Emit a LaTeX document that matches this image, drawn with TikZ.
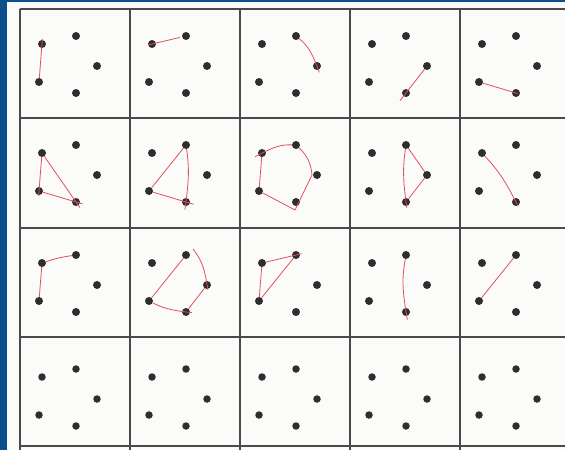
\documentclass[tikz,border=0pt]{standalone}
\usetikzlibrary{calc}
\definecolor{papier}{HTML}{FBFBF9}
\definecolor{rand}{HTML}{0B4F8C}
\definecolor{raster}{HTML}{4A4A4A}
\definecolor{punkt}{HTML}{2E2E2E}
\definecolor{stift}{HTML}{E2505E}

\begin{document}
\begin{tikzpicture}[x=1pt, y=-1pt,
  punt/.style={circle, fill=punkt, inner sep=0pt},
  raster/.style={draw=raster, line width=1.6pt},
  lijn/.style={draw=stift, line width=0.8pt}
]
\useasboundingbox (0,0) rectangle (565,450);
\fill[papier] (0,0) rectangle (565,450);
\fill[rand] (0,0) rectangle (7,450);
\fill[rand] (0,0) rectangle (565,1.5);
\foreach \xx in {20,130,240,350,460}
  \draw[raster] (\xx,9) -- (\xx,450);
\foreach \yy in {9,118,228,337,446}
  \draw[raster] (20,\yy) -- (565,\yy);
\foreach \r/\yy/\dy/\ds in {1/9/0/8,2/118/0/8,3/228/0/8,4/337/5/7.5}
  \foreach \c/\xx in {1/20,2/130,3/240,4/350,5/460} {
    \node[punt, minimum size=\ds pt] (d\r\c a) at (\xx+22,\yy+35+\dy) {};
    \node[punt, minimum size=\ds pt] (d\r\c b) at (\xx+56,\yy+27+\dy) {};
    \node[punt, minimum size=\ds pt] (d\r\c c) at (\xx+77,\yy+57+\dy) {};
    \node[punt, minimum size=\ds pt] (d\r\c d) at (\xx+19,\yy+73+\dy) {};
    \node[punt, minimum size=\ds pt] (d\r\c e) at (\xx+56,\yy+84+\dy) {};
  }
\draw[lijn, shorten <=-9pt] (d11a) -- (d11d);
\draw[lijn, shorten <=-8pt, shorten >=2pt] (d12a) -- (d12b);
\draw[lijn, shorten >=-11pt] (d13b) to[bend left=15] (d13c);
\draw[lijn, shorten >=-14pt] (d14c) -- (d14e);
\draw[lijn, shorten >=-6pt] (d15d) -- (d15e);
\draw[lijn, shorten >=-11pt] (d21a) -- (d21e);
\draw[lijn, shorten >=-9pt] (d21a) -- (d21d);
\draw[lijn, shorten >=-11pt] (d21d) -- (d21e);
\draw[lijn] (d22b) -- (d22d);
\draw[lijn, shorten >=-12pt] (d22d) -- (d22e);
\draw[lijn, shorten >=-12pt] (d22b) to[bend left=8] (d22e);
\coordinate (k23) at (312,175);
\coordinate (m23) at (295,210);
\draw[lijn, shorten <=-12pt] (d23a) to[bend left=15] (d23b);
\draw[lijn] (d23b) to[bend left=20] (k23) -- (m23) -- (d23d);
\draw[lijn] (d23d) -- (d23a);
\draw[lijn] (d24b) -- (d24c);
\draw[lijn] (d24c) -- (d24e);
\draw[lijn, shorten >=-10pt] (d24b) to[bend right=8] (d24e);
\draw[lijn, shorten >=-9pt] (d25a) to[bend left=8] (d25e);
\draw[lijn] (d31a) to[bend left=5] (d31b);
\draw[lijn] (d31a) -- (d31d);
\draw[lijn] (d32b) -- (d32d);
\draw[lijn, shorten >=-10pt] (d32d) to[bend right=10] (d32e);
\draw[lijn] (d32e) -- (d32c);
\coordinate (t32) at (193,249);
\draw[lijn, shorten <=-9pt] (d32c) to[bend right=15] (t32);
\draw[lijn, shorten >=-10pt] (d33a) -- (d33b);
\draw[lijn] (d33a) -- (d33d);
\draw[lijn] (d33d) -- (d33b);
\draw[lijn, shorten >=-12pt] (d34b) to[bend right=10] (d34e);
\draw[lijn] (d35d) -- (d35b);
\end{tikzpicture}
\end{document}
